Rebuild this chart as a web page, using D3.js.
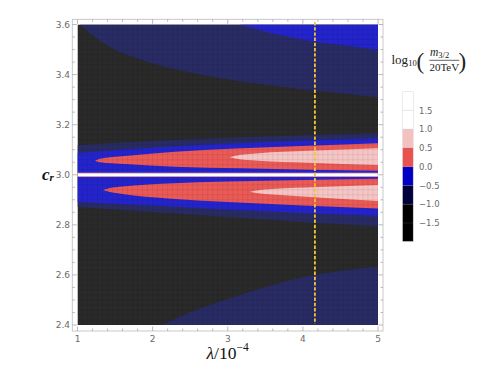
<!DOCTYPE html>
<html>
<head>
<meta charset="utf-8">
<script src="https://cdn.jsdelivr.net/npm/d3@7"></script>
<style>
  html, body { margin: 0; padding: 0; background: #fff; }
  svg { display: block; }
</style>
</head>
<body>
<svg id="chart" width="491" height="368"></svg>
<script>
// ---------------- data ----------------
const lambdaTicks = [1, 2, 3, 4, 5];
const crTicks = [2.4, 2.6, 2.8, 3.0, 3.2, 3.4, 3.6];
const legendTicks = [-1.5, -1.0, -0.5, 0, 0.5, 1.0, 1.5];
const legendBreaks = [-2, -1, -0.5, 0, 0.5, 1, 2];
const legendColors = ["#000000", "#00003a", "#0000c4", "#e8524f", "#f4c0c0", "#ffffff"];
const markerLambda = 4.16;

// region colours inside the plot
const cBlack = "#2a2a2a", cNavy = "#292c64", cBlue = "#2424cc", cRed = "#eb5a56", cPink = "#f5c6c5";

// top navy region (above curve)
const topNavyLam = [1.03, 1.233, 1.41, 1.854, 2.30, 2.74, 3.186, 3.63, 4.07, 4.52, 5.0];
const topNavyCr  = [3.60, 3.549, 3.514, 3.458, 3.421, 3.394, 3.372, 3.354, 3.338, 3.324, 3.309];
// top bright blue region (above curve)
const topBlueLam = [3.16, 3.63, 4.16, 4.6, 5.0];
const topBlueCr  = [3.60, 3.562, 3.531, 3.515, 3.498];
// bottom navy region (below curve)
const botNavyLam = [2.12, 2.52, 2.96, 3.41, 3.98, 4.52, 5.0];
const botNavyCr  = [2.40, 2.453, 2.500, 2.543, 2.590, 2.617, 2.633];
// bands around c_r = 3
const bandLam      = [1, 2, 3, 4, 5];
const upperNavyCr  = [3.118, 3.135, 3.148, 3.158, 3.166];
const upperBlueCr  = [3.086, 3.108, 3.124, 3.136, 3.146];
const lowerBlueCr  = [2.891, 2.877, 2.861, 2.847, 2.835];
const lowerNavyCr  = [2.871, 2.851, 2.831, 2.811, 2.793];
// upper lobe
const upRedLam  = [1.233, 1.30, 1.632, 2.298, 3.186, 4.072, 5.0];
const upRedTop  = [3.056, 3.064, 3.075, 3.092, 3.106, 3.116, 3.126];
const upRedBot  = [3.056, 3.050, 3.043, 3.032, 3.026, 3.020, 3.016];
const upPinkLam = [3.03, 3.10, 3.41, 4.07, 5.0];
const upPinkTop = [3.070, 3.076, 3.086, 3.096, 3.106];
const upPinkBot = [3.070, 3.065, 3.056, 3.048, 3.039];
// lower lobe
const loRedLam  = [1.34, 1.42, 1.6, 2.2, 3.0, 4.0, 5.0];
const loRedTop  = [2.939, 2.946, 2.953, 2.965, 2.973, 2.979, 2.984];
const loRedBot  = [2.939, 2.932, 2.923, 2.905, 2.891, 2.877, 2.865];
const loPinkLam = [3.30, 3.38, 3.6, 4.2, 5.0];
const loPinkTop = [2.932, 2.937, 2.943, 2.951, 2.959];
const loPinkBot = [2.932, 2.927, 2.921, 2.909, 2.895];
// excluded gap at c_r = 3
const gapCr = [2.9935, 3.0065];

// ---------------- layout ----------------
const svg = d3.select("#chart");
const x = d3.scaleLinear().domain([1, 5]).range([77.5, 378]);
const y = d3.scaleLinear().domain([2.4, 3.6]).range([325, 24.5]);
const frame = {l: 72.3, r: 383, t: 19.3, b: 331};

svg.append("defs").append("clipPath").attr("id", "plotclip")
  .append("rect").attr("x", x(1)).attr("y", y(3.6))
  .attr("width", x(5) - x(1)).attr("height", y(2.4) - y(3.6));

const g = svg.append("g").attr("clip-path", "url(#plotclip)");

g.append("rect").attr("x", x(1)).attr("y", y(3.6))
  .attr("width", x(5) - x(1)).attr("height", y(2.4) - y(3.6)).attr("fill", cBlack);

function zip(l, a, b) { return l.map((v, i) => ({l: v, a: a[i], b: b[i]})); }
const area = d3.area().x(d => x(d.l)).y0(d => y(d.a)).y1(d => y(d.b)).curve(d3.curveMonotoneX);

function band(lams, lo, hi, color) {
  g.append("path").datum(zip(lams, lo, hi)).attr("d", area).attr("fill", color);
}

// top regions
band(topNavyLam, topNavyCr, topNavyLam.map(() => 3.6), cNavy);
band(topBlueLam, topBlueCr, topBlueLam.map(() => 3.6), cBlue);
// bottom region
band(botNavyLam, botNavyLam.map(() => 2.4), botNavyCr, cNavy);
// bands around 3.0
band(bandLam, bandLam.map(() => 3.0), upperNavyCr, cNavy);
band(bandLam, bandLam.map(() => 3.0), upperBlueCr, cBlue);
band(bandLam, lowerNavyCr, bandLam.map(() => 3.0), cNavy);
band(bandLam, lowerBlueCr, bandLam.map(() => 3.0), cBlue);
// lobes
band(upRedLam, upRedBot, upRedTop, cRed);
band(upPinkLam, upPinkBot, upPinkTop, cPink);
band(loRedLam, loRedBot, loRedTop, cRed);
band(loPinkLam, loPinkBot, loPinkTop, cPink);

// mesh texture
const mesh = g.append("g").attr("stroke", "#000").attr("stroke-opacity", 0.12).attr("stroke-width", 0.6);
d3.range(0, 61).forEach(i => {
  const lv = 1 + i / 15;
  mesh.append("line").attr("x1", x(lv)).attr("x2", x(lv)).attr("y1", y(2.4)).attr("y2", y(3.6));
});
d3.range(0, 61).forEach(i => {
  const cv = 2.4 + i * 0.02;
  mesh.append("line").attr("x1", x(1)).attr("x2", x(5)).attr("y1", y(cv)).attr("y2", y(cv));
});

// white gap
g.append("rect").attr("x", x(1)).attr("width", x(5) - x(1))
  .attr("y", y(gapCr[1])).attr("height", y(gapCr[0]) - y(gapCr[1]))
  .attr("fill", "#fff").attr("stroke", "#f2a8a8").attr("stroke-width", 0.8);

// dashed marker
svg.append("line").attr("x1", x(markerLambda)).attr("x2", x(markerLambda))
  .attr("y1", y(3.61)).attr("y2", y(2.405))
  .attr("stroke", "#f2c535").attr("stroke-width", 1.8).attr("stroke-dasharray", "3.4,1.8");

// frame
svg.append("rect").attr("x", frame.l).attr("y", frame.t)
  .attr("width", frame.r - frame.l).attr("height", frame.b - frame.t)
  .attr("fill", "none").attr("stroke", "#c4c4c4").attr("stroke-width", 0.9);

const ticks = svg.append("g").attr("stroke", "#a8a8a8").attr("stroke-width", 0.8);
const lamMinor = d3.range(0, 21).map(i => 1 + i * 0.2);
lamMinor.forEach(v => {
  const major = Math.abs(v - Math.round(v)) < 1e-6;
  const len = major ? 4.5 : 2.5;
  ticks.append("line").attr("x1", x(v)).attr("x2", x(v)).attr("y1", frame.b).attr("y2", frame.b - len);
  ticks.append("line").attr("x1", x(v)).attr("x2", x(v)).attr("y1", frame.t).attr("y2", frame.t + len);
});
const crMinor = d3.range(0, 25).map(i => 2.4 + i * 0.05);
crMinor.forEach(v => {
  const major = crTicks.some(t => Math.abs(t - v) < 1e-6);
  const len = major ? 4.5 : 2.5;
  ticks.append("line").attr("x1", frame.l).attr("x2", frame.l + len).attr("y1", y(v)).attr("y2", y(v));
  ticks.append("line").attr("x1", frame.r).attr("x2", frame.r - len).attr("y1", y(v)).attr("y2", y(v));
});

const tickFont = "'DejaVu Sans', sans-serif";
svg.append("g").selectAll("text").data(lambdaTicks).join("text")
  .attr("x", d => x(d)).attr("y", 341.8).attr("text-anchor", "middle")
  .attr("font-family", tickFont).attr("font-size", 9).attr("fill", "#6a6a6a")
  .text(d => d3.format("d")(d));
svg.append("g").selectAll("text").data(crTicks).join("text")
  .attr("x", 70).attr("y", d => y(d) + 3.2).attr("text-anchor", "end")
  .attr("font-family", tickFont).attr("font-size", 9).attr("fill", "#6a6a6a")
  .text(d => d3.format(".1f")(d));

// axis labels
const serif = "'Liberation Serif', 'DejaVu Serif', serif";
const yl = svg.append("text").attr("x", 42).attr("y", 180).attr("font-family", serif).attr("fill", "#111");
yl.append("tspan").attr("font-size", 17).attr("font-style", "italic").attr("font-weight", "bold").text("c");
yl.append("tspan").attr("font-size", 11).attr("font-style", "italic").attr("font-weight", "bold").attr("dy", 1).text("r");

const xl = svg.append("text").attr("x", 206.5).attr("y", 358.8).attr("font-family", serif).attr("fill", "#111");
xl.append("tspan").attr("font-size", 17.5).attr("font-style", "italic").text("λ");
xl.append("tspan").attr("font-size", 17.5).text("/10");
xl.append("tspan").attr("font-size", 11.5).attr("dy", -8).text("−4");

// legend
const ly = d3.scaleLinear().domain([-2, 2]).range([241.7, 91.7]);
const lg = svg.append("g");
legendColors.forEach((col, i) => {
  lg.append("rect").attr("x", 402.3).attr("width", 11)
    .attr("y", ly(legendBreaks[i + 1])).attr("height", ly(legendBreaks[i]) - ly(legendBreaks[i + 1]))
    .attr("fill", col);
});
lg.selectAll("line.lt").data(legendTicks).join("line").attr("class", "lt")
  .attr("x1", 402.3).attr("x2", 413.3).attr("y1", d => ly(d)).attr("y2", d => ly(d))
  .attr("stroke", "#888").attr("stroke-opacity", 0.35).attr("stroke-width", 0.6);
lg.append("rect").attr("x", 402.3).attr("y", ly(2)).attr("width", 11).attr("height", ly(-2) - ly(2))
  .attr("fill", "none").attr("stroke", "#e2e2e2").attr("stroke-width", 0.7);
lg.selectAll("text").data(legendTicks).join("text")
  .attr("x", 419).attr("y", d => ly(d) + 3.2)
  .attr("font-family", tickFont).attr("font-size", 8.5).attr("fill", "#6a6a6a")
  .text(d => d3.format(".1f")(d).replace("-", "−"));

// legend title: log10(m_{3/2}/20TeV)
const tt = svg.append("g").attr("font-family", serif).attr("fill", "#222");
const lgT = tt.append("text").attr("x", 391.5).attr("y", 63.5);
lgT.append("tspan").attr("font-size", 13).text("log");
lgT.append("tspan").attr("font-size", 8.5).attr("dy", 2.5).text("10");
tt.append("text").attr("x", 416.5).attr("y", 68.5).attr("font-size", 23).text("(");
tt.append("text").attr("x", 458.5).attr("y", 68.5).attr("font-size", 23).text(")");
const num = tt.append("text").attr("x", 430).attr("y", 55.5);
num.append("tspan").attr("font-size", 11.5).attr("font-style", "italic").text("m");
num.append("tspan").attr("font-size", 8.5).attr("dy", 2).text("3/2");
tt.append("line").attr("x1", 429.3).attr("x2", 459.3).attr("y1", 60.3).attr("y2", 60.3)
  .attr("stroke", "#222").attr("stroke-width", 0.7);
tt.append("text").attr("x", 444.3).attr("y", 70.8).attr("text-anchor", "middle").attr("font-size", 11).text("20TeV");
</script>
</body>
</html>
